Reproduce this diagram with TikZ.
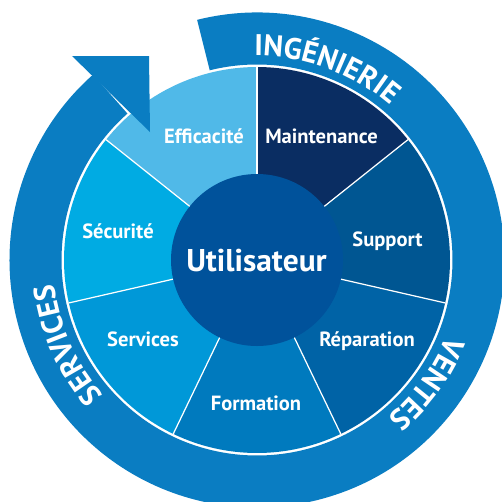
\documentclass[tikz,border=0pt]{standalone}
\usepackage{fontspec}
\setmainfont{PT Sans}
\usetikzlibrary{decorations.text}
\definecolor{ringblue}{HTML}{0A7DC2}
\definecolor{cEff}{HTML}{50B9E8}
\definecolor{cSec}{HTML}{00ABE3}
\definecolor{cSer}{HTML}{0098D8}
\definecolor{cFor}{HTML}{007ABE}
\definecolor{cRep}{HTML}{0063A6}
\definecolor{cSup}{HTML}{005692}
\definecolor{cMai}{HTML}{0A2D62}
\definecolor{cCen}{HTML}{00529B}
\newcommand{\ringfont}{\fontsize{17}{17}\selectfont\bfseries\color{white}}
\tikzset{
  wedgelabel/.style={text=white, font=\fontsize{11.7}{11.7}\selectfont\bfseries, anchor=base, inner sep=0pt},
  sepline/.style={white, line width=0.7pt},
}
\begin{document}
\begin{tikzpicture}[x=0.02cm,y=0.02cm]
\useasboundingbox (-257,-241) rectangle (245,260);
\clip (-257,-241) rectangle (245,260);
% wedges
\fill[cMai] (0,0) -- (90:193) arc[start angle=90, end angle=38.571, radius=193] -- cycle;
\fill[cSup] (0,0) -- (38.571:193) arc[start angle=38.571, end angle=-12.857, radius=193] -- cycle;
\fill[cRep] (0,0) -- (-12.857:193) arc[start angle=-12.857, end angle=-64.286, radius=193] -- cycle;
\fill[cFor] (0,0) -- (-64.286:193) arc[start angle=-64.286, end angle=-115.714, radius=193] -- cycle;
\fill[cSer] (0,0) -- (-115.714:193) arc[start angle=-115.714, end angle=-167.143, radius=193] -- cycle;
\fill[cSec] (0,0) -- (-167.143:193) arc[start angle=-167.143, end angle=-218.571, radius=193] -- cycle;
\fill[cEff] (0,0) -- (-218.571:193) arc[start angle=-218.571, end angle=-270, radius=193] -- cycle;
\foreach \a in {90,38.571,-12.857,-64.286,-115.714,-167.143,-218.571}
  \draw[sepline] (0,0) -- (\a:193);
% ring
\fill[ringblue] (104:247.5) arc[start angle=104, end angle=-228.5, radius=247.5]
  -- (-228.5:195.5) arc[start angle=-228.5, end angle=104, radius=195.5] -- cycle;
% arrowhead
\fill[ringblue] (-185,204) -- (-108,204) -- (-107,128) -- cycle;
% ring texts
\path[decorate, decoration={text along path, text align=center, text={|\ringfont|INGÉNIERIE}}]
  (110:204) arc[start angle=110, end angle=30, radius=204];
\path[decorate, decoration={text along path, text align=center, text={|\ringfont|VENTES}}]
  (4:204) arc[start angle=4, end angle=-76, radius=204];
\path[decorate, decoration={text along path, text align=center, text={|\ringfont|SERVICES}}]
  (244:204) arc[start angle=244, end angle=164, radius=204];
% center
\fill[cCen] (0,0) circle[radius=86];
\node[text=white, font=\fontsize{17.9}{17.9}\selectfont\bfseries, anchor=base, inner sep=0pt] (u) at (-0.5,-11) {Utilisateur};
% labels
\node[wedgelabel] (mai) at (64.5,117) {Maintenance};
\node[wedgelabel] (eff) at (-53,117) {Efficacité};
\node[wedgelabel] (sec) at (-139,22) {Sécurité};
\node[wedgelabel] (sup) at (130.5,14) {Support};
\node[wedgelabel] (ser) at (-114,-86) {Services};
\node[wedgelabel] (rep) at (110,-86) {Réparation};
\node[wedgelabel] (for) at (-1,-150) {Formation};
\end{tikzpicture}
\end{document}
